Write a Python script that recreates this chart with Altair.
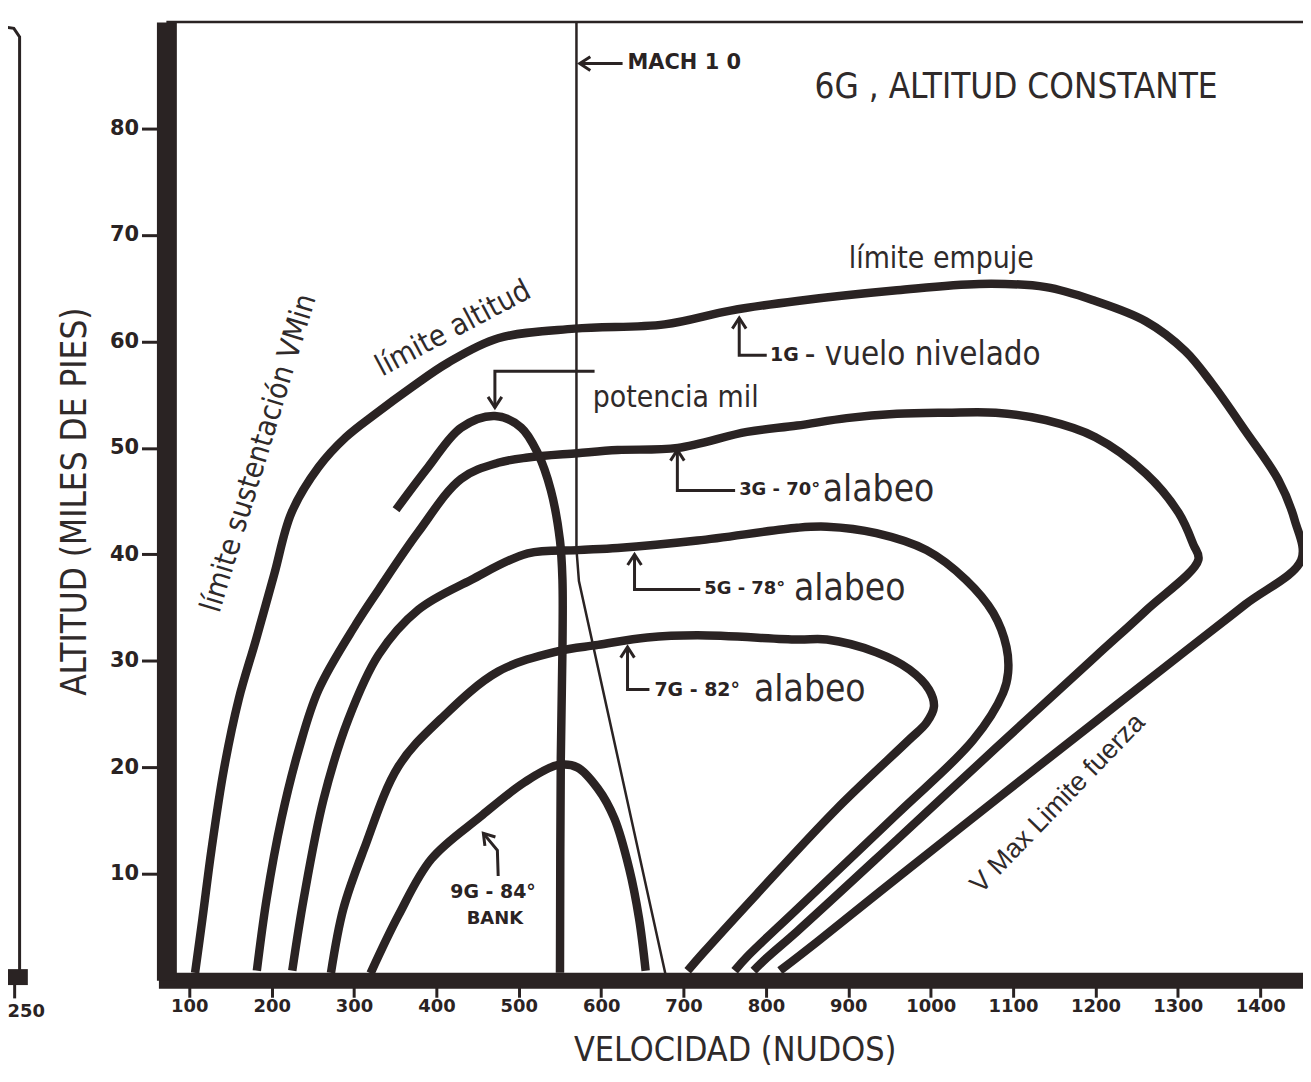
import altair as alt
import pandas as pd

# ---------------- data (knots, thousands of feet) ----------------
G1_KNOTS = [107, 116, 127, 142, 160, 181, 203, 224, 257, 290, 326, 370, 414, 475, 568, 677, 757, 838, 959, 1059, 1140, 1200, 1261, 1309, 1342, 1382, 1422, 1442, 1450, 1382, 1309, 1200, 1080, 959, 862, 817]
G1_ALT = [0.7, 5.8, 12.3, 19.8, 26.4, 32.0, 38.1, 43.9, 48.2, 51.0, 53.2, 55.7, 58.0, 60.3, 61.2, 61.6, 62.9, 63.8, 64.8, 65.4, 65.1, 63.8, 61.9, 59.1, 56.0, 51.6, 47.0, 43.2, 39.5, 35.3, 30.9, 24.3, 17.0, 9.6, 3.6, 0.9]

G3_KNOTS = [182, 194, 212, 233, 257, 302, 330, 378, 430, 475, 511, 571, 620, 693, 777, 838, 898, 959, 1019, 1079, 1140, 1200, 1261, 1301, 1319, 1325, 1261, 1200, 1079, 959, 838, 801, 785]
G3_ALT = [0.9, 7.7, 15.2, 21.7, 27.3, 33.4, 36.7, 42.1, 47.1, 48.6, 49.1, 49.5, 49.8, 50.0, 51.5, 52.1, 52.8, 53.2, 53.3, 53.3, 52.6, 51.0, 47.6, 43.9, 40.9, 39.5, 34.7, 30.4, 21.8, 13.2, 4.6, 2.1, 0.9]

G5_KNOTS = [225, 239, 263, 293, 330, 378, 442, 511, 571, 620, 717, 838, 874, 934, 995, 1043, 1076, 1092, 1094, 1088, 1052, 959, 838, 777, 762]
G5_ALT = [0.9, 7.7, 17.0, 24.5, 30.6, 34.8, 37.6, 40.1, 40.4, 40.6, 41.3, 42.5, 42.6, 42.0, 40.4, 37.6, 34.5, 31.3, 28.9, 27.0, 22.6, 15.6, 6.7, 2.2, 0.9]

G7_KNOTS = [272, 287, 312, 354, 406, 475, 547, 596, 656, 717, 838, 874, 934, 974, 998, 1004, 995, 974, 886, 789, 723, 705]
G7_ALT = [0.7, 6.7, 12.3, 20.1, 24.6, 29.0, 30.9, 31.5, 32.2, 32.4, 32.0, 32.0, 30.8, 29.2, 27.3, 25.7, 24.2, 22.6, 16.1, 8.1, 2.5, 0.9]

G9_KNOTS = [320, 354, 394, 454, 507, 547, 571, 596, 616, 634, 646, 654]
G9_ALT = [0.65, 6.1, 11.4, 15.4, 18.6, 20.2, 20.0, 18.0, 15.2, 10.5, 5.8, 0.9]

MIL_KNOTS = [351, 390, 430, 471, 503, 523, 539, 550, 553, 553, 551, 550]
MIL_ALT = [44.2, 48.2, 51.9, 53.0, 51.9, 49.5, 46.0, 41.3, 37.6, 31.1, 20.8, 0.7]

MACH_KNOTS = [570, 570, 573, 678]
MACH_ALT = [90, 40.5, 37.5, 0.6]

X_TICKS = list(range(100, 1401, 100))
Y_TICKS = list(range(10, 81, 10))

# ---------------- styling ----------------
INK = "#2a2323"
TXT = "#2f2a2a"
NARROW = "Liberation Sans Narrow, Arial Narrow, DejaVu Sans Condensed, Liberation Sans, sans-serif"
BOLD = "DejaVu Sans, Liberation Sans, sans-serif"
REG = "Liberation Sans, Arial, sans-serif"


def seq(name, ks, als):
    return [{"series": name, "i": i, "k": k, "a": a} for i, (k, a) in enumerate(zip(ks, als))]


curves = pd.DataFrame(
    seq("1G", G1_KNOTS, G1_ALT) + seq("3G", G3_KNOTS, G3_ALT) + seq("5G", G5_KNOTS, G5_ALT)
    + seq("7G", G7_KNOTS, G7_ALT) + seq("9G", G9_KNOTS, G9_ALT) + seq("mil", MIL_KNOTS, MIL_ALT)
)
mach = pd.DataFrame(seq("mach", MACH_KNOTS, MACH_ALT))

# annotation leader lines
leaders = pd.DataFrame(
    seq("machArrow", [626, 574], [86.1, 86.1])
    + seq("bracket", [592, 471, 471], [57.2, 57.2, 53.8])
    + seq("a1", [801, 767.6, 767.6], [58.7, 58.7, 62.2])
    + seq("a3", [762.6, 692.5, 692.5], [46.0, 46.0, 49.8])
    + seq("a5", [720.3, 640.5, 640.5], [36.7, 36.7, 40.0])
    + seq("a7", [658.6, 632, 632], [27.3, 27.3, 31.3])
    + seq("a9", [475, 474, 457], [9.8, 12.2, 13.8])
    + seq("fragV", [-130, -113, -106, -106], [89.6, 89.4, 88.6, 0.6])
    + seq("fragTick", [-112, -112], [-0.4, -1.7])
)
heads = pd.DataFrame({
    "k": [574, 471, 767.6, 692.5, 640.5, 632, 457],
    "a": [86.1, 53.8, 62.2, 49.8, 40.0, 31.3, 13.8],
    "ang": [180, 90, 270, 270, 270, 270, 230],
})
frame = pd.DataFrame({"k": [72.2], "k2": [1470], "a": [90]})
frag_band = pd.DataFrame(seq("fragBand", [-131, -96], [0.3, 0.3]))

narrow_left = pd.DataFrame({
    "t": ["6G , ALTITUD CONSTANTE", "límite empuje", "potencia mil", "- vuelo nivelado", "alabeo", "alabeo", "alabeo"],
    "k": [859, 900.5, 589.7, 847, 869, 834, 785.6],
    "a": [83.9, 67.7, 54.7, 58.7, 46.0, 36.7, 27.3],
    "s": [35, 30, 30, 33, 37, 37, 37],
})
narrow_rot = pd.DataFrame({
    "t": ["límite altitud", "límite sustentación VMin"],
    "k": [420.4, 184.6],
    "a": [61.2, 49.5],
    "s": [30, 30],
    "ang": [332, 287],
})
reg_rot = pd.DataFrame({"t": ["V Max Limite fuerza"], "k": [1154.4], "a": [16.6], "s": [27], "ang": [314]})
bold_left = pd.DataFrame({
    "t": ["MACH 1 0", "1G", "3G - 70°", "5G - 78°", "7G - 82°"],
    "k": [632, 805, 767.5, 725.1, 664.7],
    "a": [86.1, 58.7, 46.0, 36.7, 27.3],
    "s": [21, 19, 18, 18, 19],
})
bold_center = pd.DataFrame({
    "t": ["9G - 84°", "BANK", "250"],
    "k": [468.8, 471, -98],
    "a": [8.3, 5.8, -3.0],
    "s": [19, 18, 18],
})

# ---------------- scales / axes ----------------
xs = alt.Scale(domain=[72.2, 1452], nice=False, zero=False)
ys = alt.Scale(domain=[0, 90], nice=False, zero=False)
X = alt.X("k:Q", scale=xs, axis=alt.Axis(
    values=X_TICKS, format="d", title="VELOCIDAD (NUDOS)", grid=False,
    domainColor=INK, domainWidth=16, domainCap="square",
    tickColor=INK, tickWidth=3, tickSize=17,
    labelFont=BOLD, labelFontSize=18, labelFontWeight="bold", labelColor=INK,
    labelPadding=0, labelOverlap=False, labelFlush=False,
    titleFont=NARROW, titleFontSize=34, titleFontWeight="normal", titleColor=TXT,
    titleY=81, titleBaseline="alphabetic"))
Y = alt.Y("a:Q", scale=ys, axis=alt.Axis(
    values=Y_TICKS, title="ALTITUD (MILES DE PIES)", grid=False,
    domainColor=INK, domainWidth=20,
    tickColor=INK, tickWidth=3, tickSize=25,
    labelFont=BOLD, labelFontSize=21, labelFontWeight="bold", labelColor=INK,
    labelPadding=3,
    titleFont=NARROW, titleFontSize=35, titleFontWeight="normal", titleColor=TXT,
    titleAngle=270, titleX=-92, titleY=481, titleAlign="center", titleBaseline="middle"))

curve_layer = alt.Chart(curves).mark_line(
    color=INK, strokeWidth=8.5, interpolate="catmull-rom", clip=False, strokeCap="butt", strokeJoin="round"
).encode(x=X, y=Y, detail="series:N", order="i:Q")

mach_layer = alt.Chart(mach).mark_line(color=INK, strokeWidth=2.5, clip=False).encode(
    x=X, y=Y, detail="series:N", order="i:Q")

leader_layer = alt.Chart(leaders).mark_line(color=INK, strokeWidth=3, clip=False).encode(
    x=X, y=Y, detail="series:N", order="i:Q")

band_layer = alt.Chart(frag_band).mark_line(color=INK, strokeWidth=16, clip=False, strokeCap="butt").encode(
    x=X, y=Y, detail="series:N", order="i:Q")

head_layer = alt.Chart(heads).mark_point(
    shape="M -1 -0.65 L 0 0 L -1 0.65", filled=False, strokeWidth=3, size=450, color=INK, opacity=1, clip=False
).encode(x=X, y=Y, angle=alt.Angle("ang:Q", scale=None))

frame_layer = alt.Chart(frame).mark_rule(color=INK, strokeWidth=2.5, clip=False).encode(
    x=X, x2="k2:Q", y=Y)

t1 = alt.Chart(narrow_left).mark_text(font=NARROW, align="left", baseline="middle", color=TXT, clip=False).encode(
    x=X, y=Y, text="t:N", size=alt.Size("s:Q", scale=None))
t2 = alt.Chart(narrow_rot).mark_text(font=NARROW, align="center", baseline="middle", color=TXT, clip=False).encode(
    x=X, y=Y, text="t:N", size=alt.Size("s:Q", scale=None), angle=alt.Angle("ang:Q", scale=None))
t3 = alt.Chart(reg_rot).mark_text(font=REG, align="center", baseline="middle", color=TXT, clip=False).encode(
    x=X, y=Y, text="t:N", size=alt.Size("s:Q", scale=None), angle=alt.Angle("ang:Q", scale=None))
t4 = alt.Chart(bold_left).mark_text(font=BOLD, fontWeight="bold", align="left", baseline="middle", color=INK, clip=False).encode(
    x=X, y=Y, text="t:N", size=alt.Size("s:Q", scale=None))
t5 = alt.Chart(bold_center).mark_text(font=BOLD, fontWeight="bold", align="center", baseline="middle", color=INK, clip=False).encode(
    x=X, y=Y, text="t:N", size=alt.Size("s:Q", scale=None))

chart = alt.layer(
    frame_layer, mach_layer, leader_layer, band_layer, head_layer, curve_layer, t1, t2, t3, t4, t5
).properties(
    width=1141, height=962,
    padding={"left": 159, "top": 12, "right": 0, "bottom": 86},
    autosize=alt.AutoSizeParams(type="none"),
).configure(background="white").configure_view(strokeWidth=0)

chart.save("out.html", embed_options={"renderer": "svg", "actions": False})
